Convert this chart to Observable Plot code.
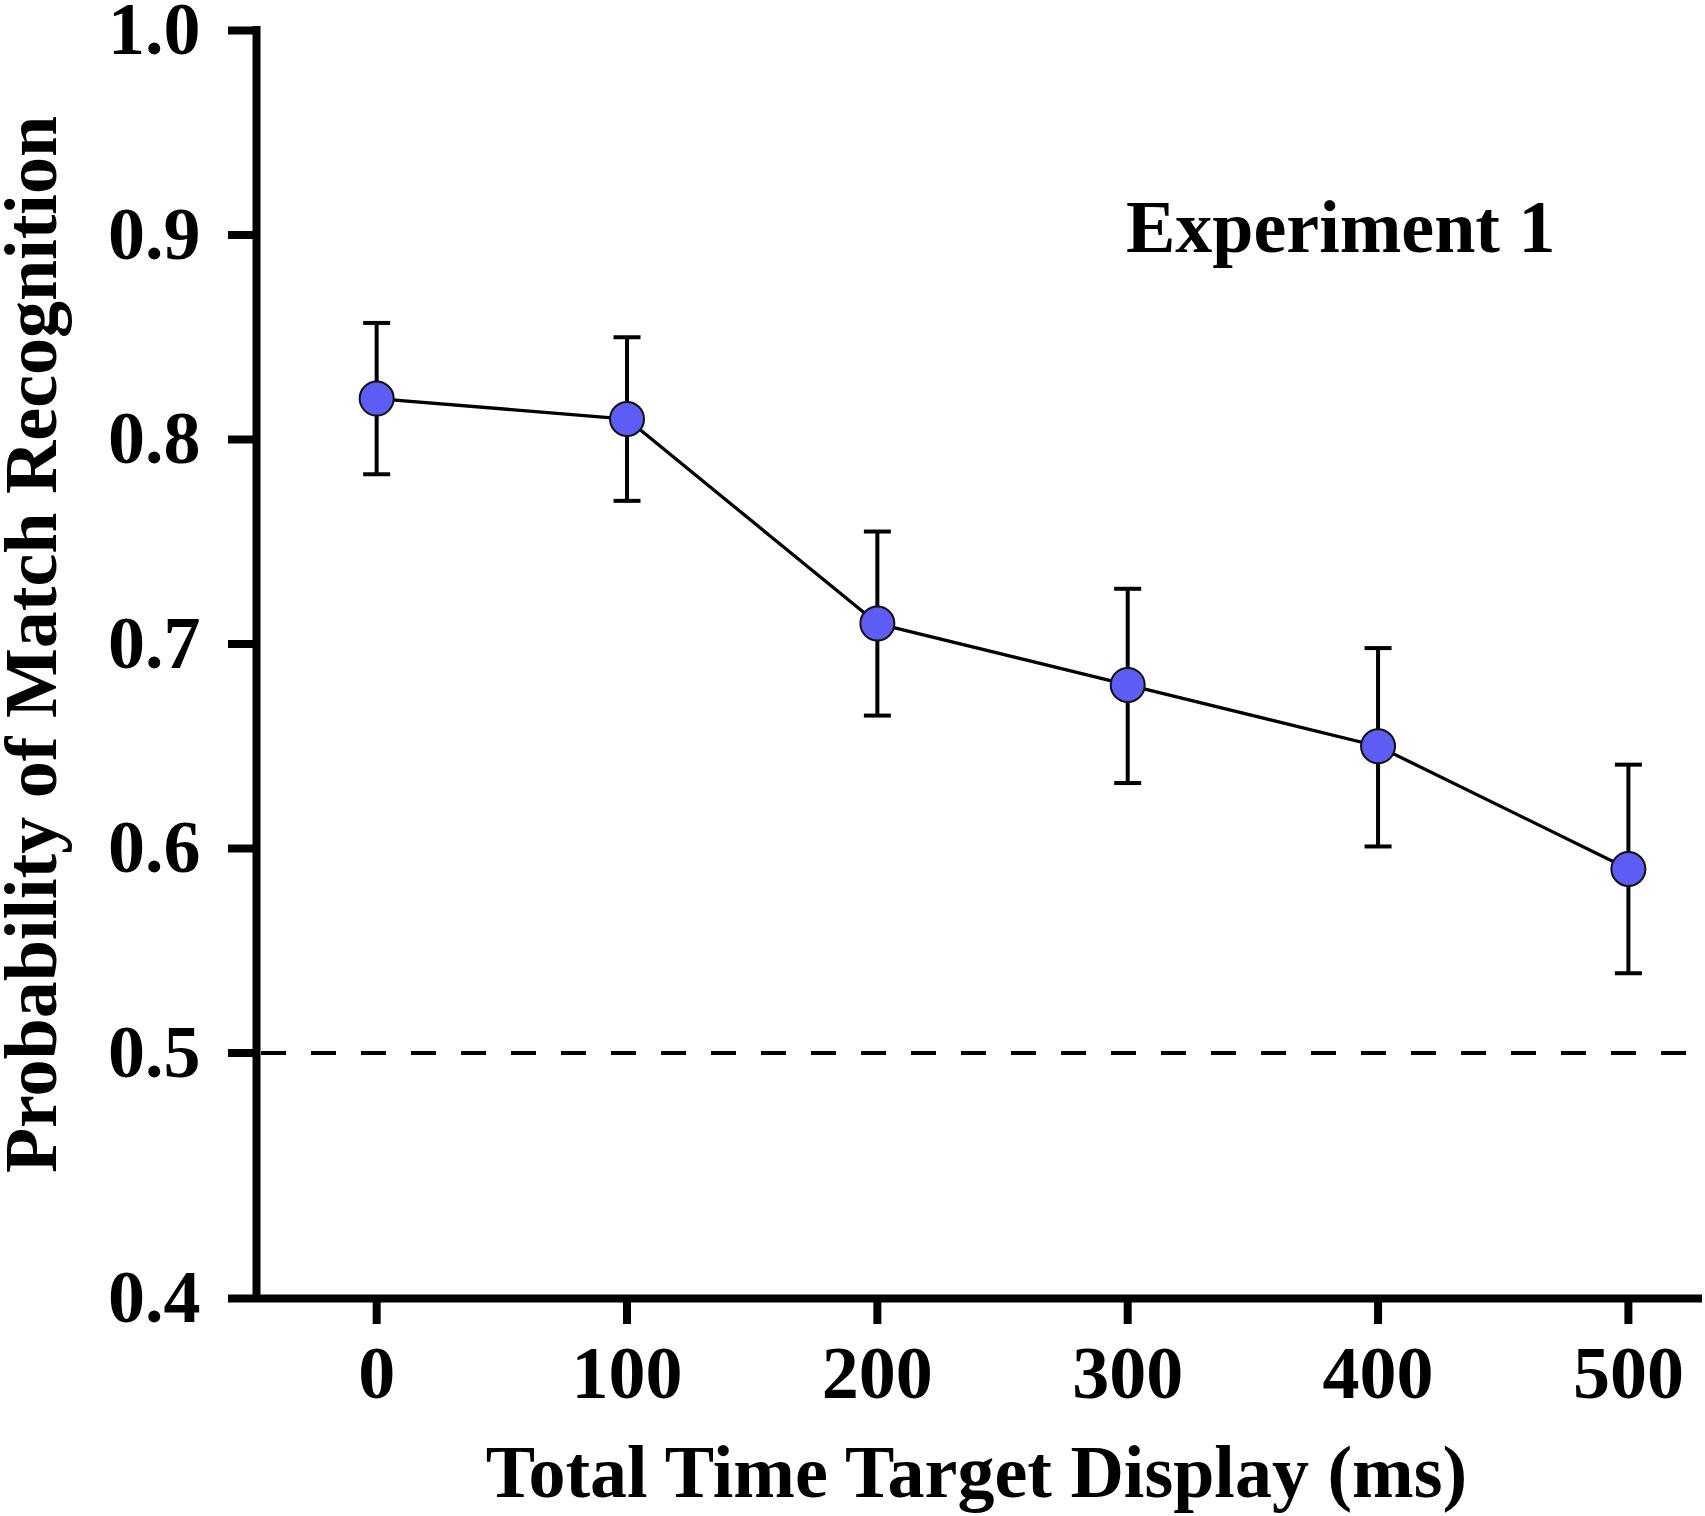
<!DOCTYPE html>
<html>
<head>
<meta charset="utf-8">
<script src="https://cdn.jsdelivr.net/npm/d3@7"></script>
<script src="https://cdn.jsdelivr.net/npm/@observablehq/plot@0.6"></script>
<style>
  html, body { margin: 0; padding: 0; background: #fff; }
  #chart svg { display: block; }
</style>
</head>
<body>
<div id="chart"></div>
<script>
// ---- data ----
const times = [0, 100, 200, 300, 400, 500];
const means = [0.82, 0.81, 0.71, 0.68, 0.65, 0.59];
const upper = [0.857, 0.850, 0.755, 0.727, 0.698, 0.641];
const lower = [0.783, 0.770, 0.665, 0.632, 0.601, 0.539];

const xTicks = [0, 100, 200, 300, 400, 500];
const yTicks = [0.4, 0.5, 0.6, 0.7, 0.8, 0.9, 1.0];
const chance = [0.5];

const xDomain = [-48, 529.6];
const yDomain = [0.4, 0.5, 1.0];

const xLabel = "Total Time Target Display (ms)";
const yLabel = "Probability of Match Recognition";
const annotation = "Experiment 1";

const rows = times.map((t, i) => ({t, m: means[i], hi: upper[i], lo: lower[i]}));

// horizontal cap symbol for error bars
const capSymbol = {
  draw(ctx) { ctx.moveTo(-13.5, 0); ctx.lineTo(13.5, 0); }
};

const FONT = "Liberation Serif, Times New Roman, serif";
const FS = 74;

const W = 1705, H = 1516;
const plot = Plot.plot({
  width: W,
  height: H,
  marginLeft: 256,
  marginRight: 3,
  marginTop: 30,
  marginBottom: 218,
  style: {fontFamily: FONT, fontWeight: "bold", background: "#fff", color: "#000", overflow: "visible"},
  x: {type: "linear", domain: xDomain},
  y: {type: "linear", domain: yDomain, range: [1298, 1052.5, 30]},
  marks: [
    // chance line
    Plot.ruleY(chance, {stroke: "#000", strokeWidth: 4, strokeDasharray: "25,25", strokeDashoffset: -5}),
    // axes lines
    Plot.ruleX([xDomain[0]], {y1: yDomain[0], y2: yDomain[yDomain.length - 1], stroke: "#000", strokeWidth: 8, strokeLinecap: "square"}),
    Plot.ruleY([yDomain[0]], {stroke: "#000", strokeWidth: 8}),
    Plot.axisY({
      ticks: yTicks, tickFormat: d3.format(".1f"), tickSize: 28, tickPadding: 28,
      strokeWidth: 8, fontSize: FS, fontWeight: "bold", fontFamily: FONT, label: null
    }),
    Plot.axisX({
      ticks: xTicks, tickFormat: d3.format("d"), tickSize: 26, tickPadding: 20.5,
      strokeWidth: 8, fontSize: FS, fontWeight: "bold", fontFamily: FONT, label: null
    }),
    // error bars
    Plot.ruleX(rows, {x: "t", y1: "lo", y2: "hi", stroke: "#000", strokeWidth: 4}),
    Plot.dot(rows, {x: "t", y: "hi", symbol: capSymbol, r: 10, stroke: "#000", strokeWidth: 4, fill: "none"}),
    Plot.dot(rows, {x: "t", y: "lo", symbol: capSymbol, r: 10, stroke: "#000", strokeWidth: 4, fill: "none"}),
    // mean line
    Plot.line(rows, {x: "t", y: "m", stroke: "#000", strokeWidth: 3.3}),
    Plot.dot(rows, {x: "t", y: "m", r: 17, fill: "#5d5df5", stroke: "#111", strokeWidth: 2}),
    // annotation
    Plot.text([annotation], {
      frameAnchor: "top-right", textAnchor: "end", lineAnchor: "middle",
      dx: -147, dy: 198, fontSize: FS, fontWeight: "bold", fontFamily: FONT, fill: "#000"
    }),
    // axis titles
    Plot.text([xLabel], {
      frameAnchor: "bottom", textAnchor: "middle", lineAnchor: "middle", dx: -3, dy: 175,
      fontSize: FS, fontWeight: "bold", fontFamily: FONT, fill: "#000"
    }),
    Plot.text([yLabel], {
      frameAnchor: "left", textAnchor: "middle", lineAnchor: "middle", rotate: -90, dx: -224, dy: -20,
      fontSize: FS, fontWeight: "bold", fontFamily: FONT, fill: "#000"
    })
  ]
});
document.getElementById("chart").appendChild(plot);
</script>
</body>
</html>
